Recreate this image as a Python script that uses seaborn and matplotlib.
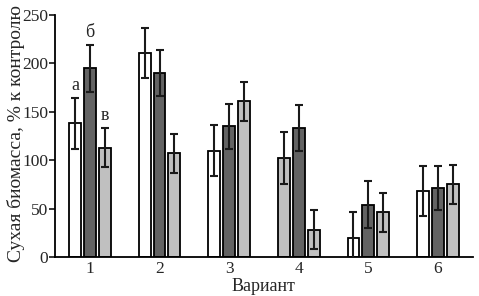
import matplotlib
matplotlib.use("Agg")
import matplotlib.pyplot as plt
import seaborn as sns
import pandas as pd
import numpy as np

variants = ["1", "2", "3", "4", "5", "6"]
series = ["s1", "s2", "s3"]
values_s1 = [138, 211, 110, 102, 20, 68]
values_s2 = [195, 190, 135, 133, 54, 71]
values_s3 = [113, 107, 161, 28, 46, 75]
err_s1 = [26, 26, 26, 27, 26, 26]
err_s2 = [24, 24, 23, 24, 24, 23]
err_s3 = [20, 20, 20, 20, 20, 20]
fill_s1 = ["white", "white", "white", "#c0c0c0", "white", "white"]
fill_s2 = ["#636363"] * 6
fill_s3 = ["#c0c0c0"] * 6
letters = ["а", "б", "в"]
yticks = [0, 50, 100, 150, 200, 250]

rows = []
for s, vals, errs in zip(series, [values_s1, values_s2, values_s3], [err_s1, err_s2, err_s3]):
    for v, val, e in zip(variants, vals, errs):
        rows.append(dict(variant=v, series=s, value=val, err=e))
df = pd.DataFrame(rows)

sns.set_style("ticks")
plt.rcParams["font.family"] = ["Liberation Serif", "DejaVu Serif"]

fig = plt.figure(figsize=(4.79, 2.96), dpi=100)
ax = fig.add_axes([0.115, 0.132, 0.872, 0.817])

sns.barplot(data=df, x="variant", y="value", hue="series", order=variants,
            hue_order=series, palette=["white", "#636363", "#c0c0c0"],
            width=0.64, gap=0.2, edgecolor="black", linewidth=1.3,
            errorbar=None, legend=False, ax=ax)

fills = fill_s1 + fill_s2 + fill_s3
errs = err_s1 + err_s2 + err_s3
patches = [p for p in ax.patches]
for p, fc, e in zip(patches, fills, errs):
    p.set_facecolor(fc)
    cx = p.get_x() + p.get_width() / 2
    h = p.get_height()
    ax.errorbar(cx, h, yerr=e, color="#1a1a1a", capsize=3.2, capthick=1.5,
                elinewidth=1.5, zorder=5)

# significance letters for variant 1
for i, letter in enumerate(letters):
    p = patches[i * 6]
    cx = p.get_x() + p.get_width() / 2
    top = p.get_height() + errs[i * 6]
    ax.text(cx, top + 4, letter, ha="center", va="bottom", fontsize=13)

ax.set_xlim(-0.5, 5.5)
ax.set_ylim(0, 250)
ax.set_yticks(yticks)
ax.set_yticklabels([str(t) for t in yticks], fontsize=12.5)
ax.tick_params(axis="x", length=0, labelsize=12.5, pad=3)
ax.tick_params(axis="y", length=4, width=1.3, pad=1)
ax.set_xlabel("Вариант", fontsize=13, labelpad=1)
ax.set_ylabel("Сухая биомасса, % к контролю", fontsize=14, labelpad=3)
ax.yaxis.set_label_coords(-0.073, 0.51)
for sp in ["top", "right"]:
    ax.spines[sp].set_visible(False)
for sp in ["left", "bottom"]:
    ax.spines[sp].set_linewidth(1.3)
    ax.spines[sp].set_color("black")

fig.savefig("out.png", dpi=100)
